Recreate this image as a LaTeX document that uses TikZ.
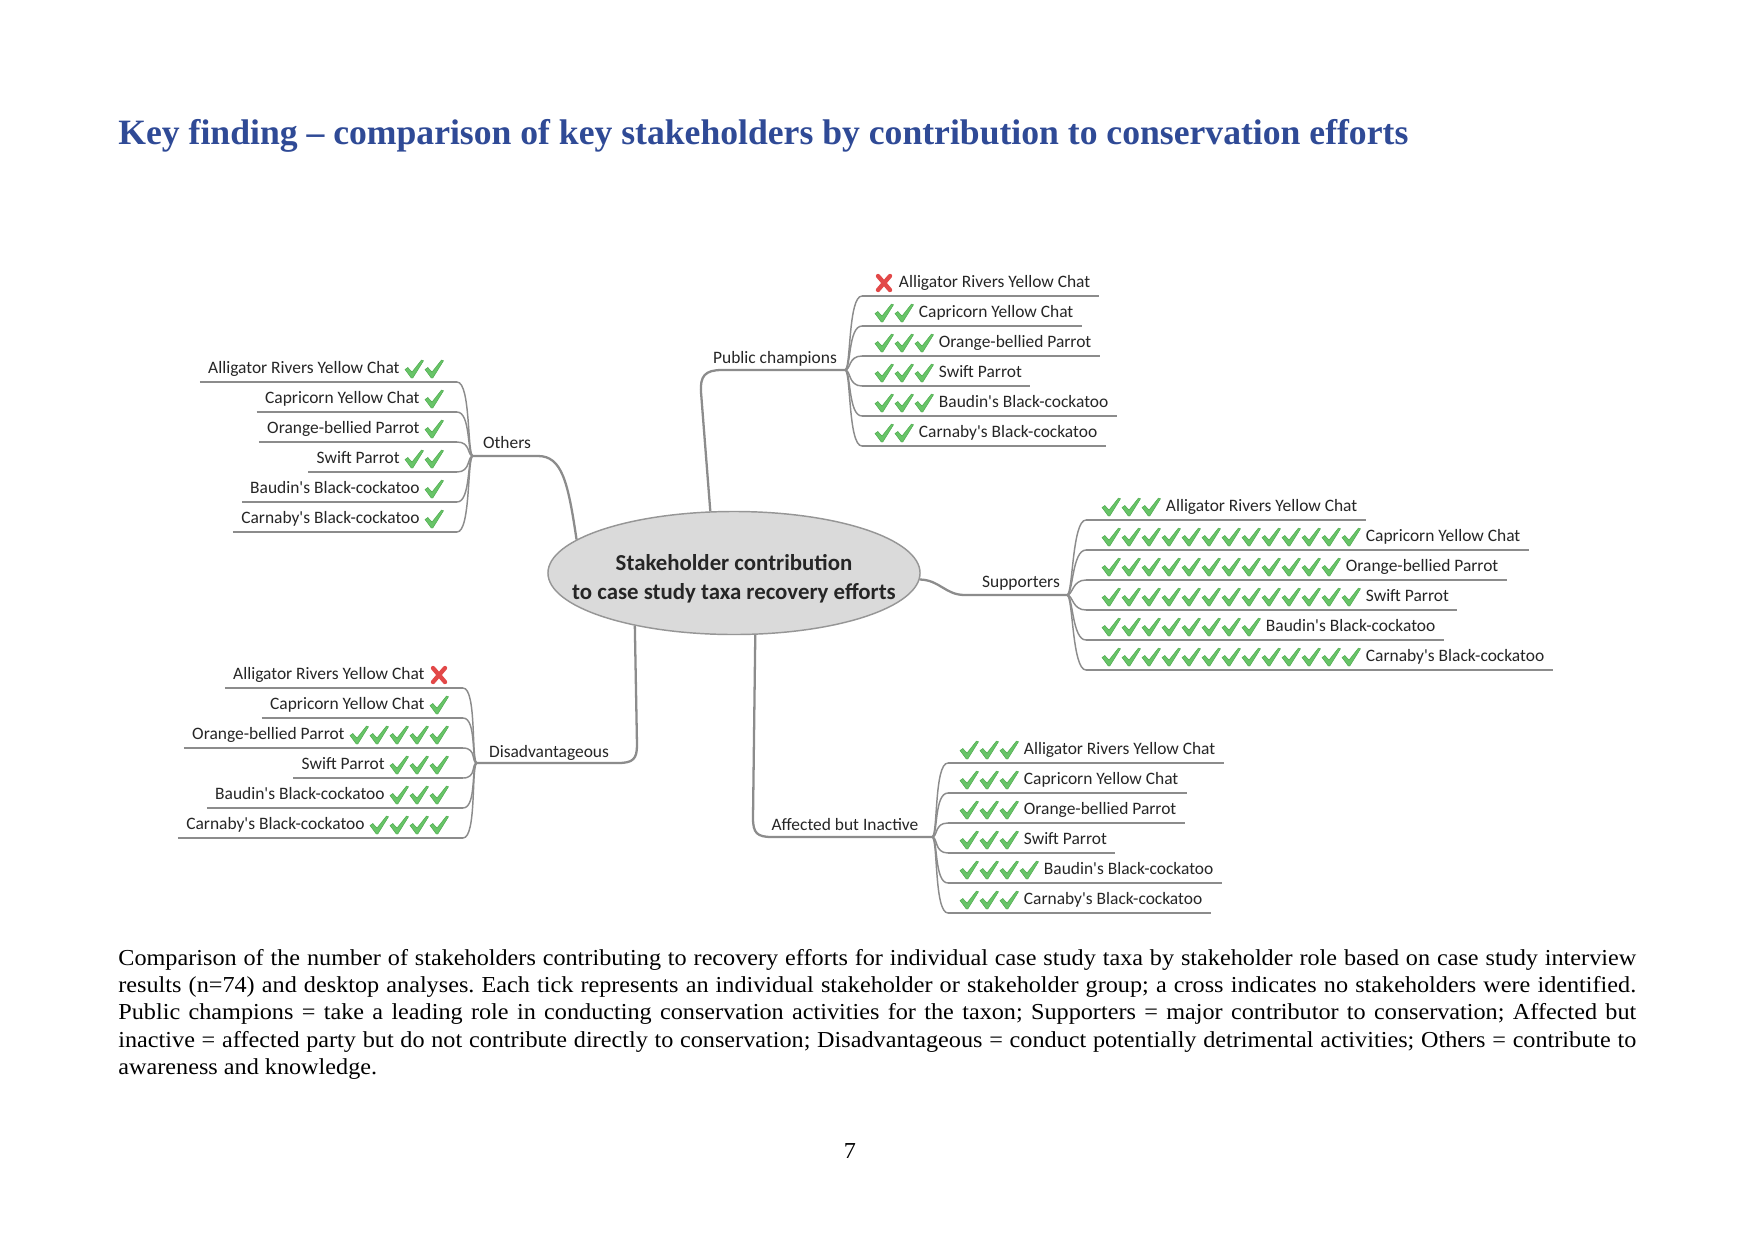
\documentclass[tikz,border=0pt]{standalone}
\usepackage{fontspec}
\setmainfont{Liberation Serif}
\newfontfamily\mmfont{Carlito}
\newfontfamily\capfont[FakeStretch=1.06]{Liberation Serif}
\usetikzlibrary{shapes.geometric,calc}
\definecolor{titleblue}{RGB}{47,74,150}
\definecolor{linegray}{RGB}{140,140,140}
\definecolor{ellfill}{RGB}{218,218,218}
\definecolor{ellline}{RGB}{150,150,150}
\definecolor{tkgreen}{RGB}{104,196,104}
\definecolor{tkdark}{RGB}{70,166,70}
\definecolor{crred}{RGB}{226,72,72}
\definecolor{txt}{RGB}{38,38,38}
\tikzset{
 lbl/.style={font=\mmfont\fontsize{8.4}{10}\selectfont, text=txt, inner sep=0pt},
 branch/.style={draw=linegray, line width=1.1pt},
 fan/.style={draw=linegray, line width=0.7pt},
 uline/.style={draw=linegray, line width=0.6pt},
 tk/.pic={\path[fill=tkgreen, draw=tkdark, line width=0.2pt] (0,-12.5) -- (2.8,-14.5) -- (7,-10) -- (16.5,-22) -- (18.5,-21.2) -- (7.8,-4) -- (6.3,-4) -- cycle;},
 crs/.pic={\draw[crred, line width=2.1pt, line cap=round] (3,-20) -- (15,-6) (15,-20) -- (3,-6);}
}
% right-side child: junction, left x, underline y, tick start x, count (0 = cross), name, text
\newcommand\RChild[7]{%
 \ifnum#5=0 \pic at (#4,#3) {crs};\else
 \foreach \k in {1,...,#5} {\pic at ({#4+20*(\k-1)},#3) {tk};}\fi
 \pgfmathsetmacro\mcount{max(#5,1)}%
 \node[lbl,anchor=base west] (#6) at ({#4+20*\mcount+3.5},{#3-9}) {#7};
 \draw[uline] (#2,#3) -- ($(#6.base east)+(8,9)$);
 \draw[fan] (#1) .. controls +(6,0) and +(-14,0) .. (#2,#3);
}
% left-side child: junction, right x, underline y, tick end x, count, name, text
\newcommand\LChild[7]{%
 \ifnum#5=0 \pic at ({#4-18},#3) {crs};\else
 \foreach \k in {1,...,#5} {\pic at ({#4-18-20*(\k-1)},#3) {tk};}\fi
 \pgfmathsetmacro\mcount{max(#5,1)}%
 \node[lbl,anchor=base east] (#6) at ({#4-20*(\mcount-1)-18-5},{#3-9}) {#7};
 \draw[uline] ($(#6.base west)+(-8,9)$) -- (#2,#3);
 \draw[fan] (#1) .. controls +(-6,0) and +(14,0) .. (#2,#3);
}
\begin{document}
\begin{tikzpicture}[x=0.16933mm,y=-0.16933mm]
\path[fill=white] (0,0) rectangle (1754,1241);
\useasboundingbox (0,0) rectangle (1754,1241);

\node[anchor=base west, inner sep=0pt, text=titleblue, font=\bfseries\fontsize{14.5}{17}\selectfont] (title) at (118,144.5)
 {\resizebox{218.4mm}{!}{Key finding – comparison of key stakeholders by contribution to conservation efforts}};

% central ellipse
\node[ellipse, fill=ellfill, draw=ellline, line width=0.7pt, minimum width=63mm, minimum height=20.83mm, inner sep=0pt] (ell) at (734,573) {};
\node[align=center, inner sep=0pt, text=txt, font=\mmfont\bfseries\fontsize{11}{14.2}\selectfont] (elltext) at (734,578.5)
 {Stakeholder contribution\\to case study taxa recovery efforts};

% junctions
\coordinate (pcJ) at (845,370);
\coordinate (suJ) at (1067,595);
\coordinate (afJ) at (932,837);
\coordinate (otJ) at (473,456);
\coordinate (diJ) at (477,763);

% main branches
\draw[branch] (ell.111) -- (701,392) .. controls (700,376) and (705,370) .. (722,370) -- (pcJ);
\draw[branch] (ell.-2) .. controls (940,580) and (945,595) .. (965,595) -- (suJ);
\draw[branch] (ell.-71) -- (753,818) .. controls (753,833) and (757,837) .. (772,837) -- (afJ);
\draw[branch] (ell.-152) -- (637,745) .. controls (637,759) and (633,763) .. (618,763) -- (diJ);
\draw[branch] (ell.168) .. controls (568,482) and (562,456) .. (538,456) -- (otJ);

% branch labels
\node[lbl,anchor=base] (pcl) at (775,363) {Public champions};
\node[lbl,anchor=base] (sul) at (1021,587) {Supporters};
\node[lbl,anchor=base] (afl) at (845,830) {Affected but Inactive};
\node[lbl,anchor=base] (otl) at (507,448) {Others};
\node[lbl,anchor=base] (dil) at (549,757) {Disadvantageous};

% Public champions
\RChild{pcJ}{862}{296}{875}{0}{pc1}{Alligator Rivers Yellow Chat}
\RChild{pcJ}{862}{326}{875}{2}{pc2}{Capricorn Yellow Chat}
\RChild{pcJ}{862}{356}{875}{3}{pc3}{Orange-bellied Parrot}
\RChild{pcJ}{862}{386}{875}{3}{pc4}{Swift Parrot}
\RChild{pcJ}{862}{416}{875}{3}{pc5}{Baudin's Black-cockatoo}
\RChild{pcJ}{862}{446}{875}{2}{pc6}{Carnaby's Black-cockatoo}

% Supporters
\RChild{suJ}{1086}{520}{1102}{3}{su1}{Alligator Rivers Yellow Chat}
\RChild{suJ}{1086}{550}{1102}{13}{su2}{Capricorn Yellow Chat}
\RChild{suJ}{1086}{580}{1102}{12}{su3}{Orange-bellied Parrot}
\RChild{suJ}{1086}{610}{1102}{13}{su4}{Swift Parrot}
\RChild{suJ}{1086}{640}{1102}{8}{su5}{Baudin's Black-cockatoo}
\RChild{suJ}{1086}{670}{1102}{13}{su6}{Carnaby's Black-cockatoo}

% Affected but Inactive
\RChild{afJ}{948}{763}{960}{3}{af1}{Alligator Rivers Yellow Chat}
\RChild{afJ}{948}{793}{960}{3}{af2}{Capricorn Yellow Chat}
\RChild{afJ}{948}{823}{960}{3}{af3}{Orange-bellied Parrot}
\RChild{afJ}{948}{853}{960}{3}{af4}{Swift Parrot}
\RChild{afJ}{948}{883}{960}{4}{af5}{Baudin's Black-cockatoo}
\RChild{afJ}{948}{913}{960}{3}{af6}{Carnaby's Black-cockatoo}

% Others
\LChild{otJ}{457}{382}{443}{2}{ot1}{Alligator Rivers Yellow Chat}
\LChild{otJ}{457}{412}{443}{1}{ot2}{Capricorn Yellow Chat}
\LChild{otJ}{457}{442}{443}{1}{ot3}{Orange-bellied Parrot}
\LChild{otJ}{457}{472}{443}{2}{ot4}{Swift Parrot}
\LChild{otJ}{457}{502}{443}{1}{ot5}{Baudin's Black-cockatoo}
\LChild{otJ}{457}{532}{443}{1}{ot6}{Carnaby's Black-cockatoo}

% Disadvantageous
\LChild{diJ}{463}{688}{448}{0}{di1}{Alligator Rivers Yellow Chat}
\LChild{diJ}{463}{718}{448}{1}{di2}{Capricorn Yellow Chat}
\LChild{diJ}{463}{748}{448}{5}{di3}{Orange-bellied Parrot}
\LChild{diJ}{463}{778}{448}{3}{di4}{Swift Parrot}
\LChild{diJ}{463}{808}{448}{3}{di5}{Baudin's Black-cockatoo}
\LChild{diJ}{463}{838}{448}{4}{di6}{Carnaby's Black-cockatoo}

% caption
\node[anchor=north west, inner sep=0pt, text width=257.0mm, align=justify, font=\capfont\fontsize{11}{13.2}\selectfont\frenchspacing, text=black] (cap) at (118,948.5)
 {Comparison of the number of stakeholders contributing to recovery efforts for individual case study taxa by stakeholder role based on case study interview\linebreak
 results (n=74) and desktop analyses. Each tick represents an individual stakeholder or stakeholder group; a cross indicates no stakeholders were identified.\linebreak
 Public champions = take a leading role in conducting conservation activities for the taxon; Supporters = major contributor to conservation; Affected but\linebreak
 inactive = affected party but do not contribute directly to conservation; Disadvantageous = conduct potentially detrimental activities; Others = contribute to\linebreak
 awareness and knowledge.};

\node[anchor=base, inner sep=0pt, font=\capfont\fontsize{11}{13}\selectfont] (pagenum) at (850,1158.5) {7};
\end{tikzpicture}
\end{document}
